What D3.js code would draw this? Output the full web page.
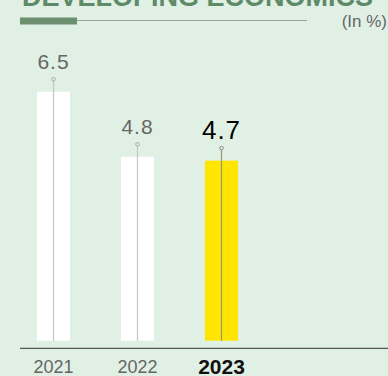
<!DOCTYPE html>
<html>
<head>
  <meta charset="utf-8">
  <title>Developing economics</title>
  <style>
    html, body { margin: 0; padding: 0; }
    body { background: #e1f0e5; font-family: "Liberation Sans", Arial, sans-serif; }
  </style>
  <script src="https://d3js.org/d3.v7.min.js"></script>
</head>
<body>
  <script>
    var years = ['2021', '2022', '2023'];
    var values = [6.5, 4.8, 4.7];
    var labels = ['6.5', '4.8', '4.7'];

    var width = 388;
    var height = 376;
    var current = 2; // highlighted year

    var svg = d3.select('body').append('svg')
      .attr('width', width)
      .attr('height', height)
      .style('display', 'block');

    // header
    svg.append('text')
      .attr('x', 22)
      .attr('y', 6)
      .style('font-size', '27px')
      .style('font-weight', 'bold')
      .style('fill', '#5e8a67')
      .text('DEVELOPING ECONOMICS');

    svg.append('line')
      .attr('x1', 77).attr('x2', 307)
      .attr('y1', 20.5).attr('y2', 20.5)
      .style('stroke', '#9aa59c')
      .style('stroke-width', 1.2);

    svg.append('rect')
      .attr('x', 20).attr('y', 17.5)
      .attr('width', 57).attr('height', 7)
      .style('fill', '#6b8f6f');

    svg.append('text')
      .attr('x', 387)
      .attr('y', 27)
      .attr('text-anchor', 'end')
      .style('font-size', '17px')
      .style('fill', '#666')
      .text('(In %)');

    var x = d3.scaleBand()
      .domain(years)
      .range([-14, 289])
      .padding(0.607);

    var y = d3.scaleLinear()
      .domain([0, 6.5])
      .range([340.7, 91.7]);

    var data = years.map(function(d, i) {
      return {year: d, value: values[i], label: labels[i], i: i};
    });

    var bar = svg.append('g').selectAll('g')
      .data(data)
      .enter()
      .append('g');

    bar.append('rect')
      .attr('x', d => x(d.year))
      .attr('y', d => y(d.value))
      .attr('width', x.bandwidth())
      .attr('height', d => y(0) - y(d.value))
      .style('fill', d => d.i === current ? '#ffe500' : '#fff');

    bar.append('line')
      .attr('x1', d => x(d.year) + x.bandwidth() / 2)
      .attr('x2', d => x(d.year) + x.bandwidth() / 2)
      .attr('y1', d => y(d.value) - 12.5)
      .attr('y2', y(0))
      .style('stroke', d => d.i === current ? '#9a9a7a' : '#c8c8c8')
      .style('stroke-width', 1.3);

    bar.append('circle')
      .attr('cx', d => x(d.year) + x.bandwidth() / 2)
      .attr('cy', d => y(d.value) - 12.5)
      .attr('r', 1.8)
      .style('fill', '#e1f0e5')
      .style('stroke', d => d.i === current ? '#888' : '#aaa')
      .style('stroke-width', 1);

    bar.append('text')
      .attr('x', d => x(d.year) + x.bandwidth() / 2)
      .attr('y', d => y(d.value) - (d.i === current ? 21.5 : 23))
      .attr('text-anchor', 'middle')
      .style('font-size', d => d.i === current ? '26px' : '21px')
      .style('letter-spacing', '1px')
      .style('fill', d => d.i === current ? '#000' : '#666')
      .text(d => d.label);

    // axis
    svg.append('line')
      .attr('x1', 20).attr('x2', width)
      .attr('y1', 348.3).attr('y2', 348.3)
      .style('stroke', '#555')
      .style('stroke-width', 1.2);

    svg.append('g').selectAll('text')
      .data(data)
      .enter()
      .append('text')
      .attr('x', d => x(d.year) + x.bandwidth() / 2)
      .attr('y', d => d.i === current ? 373.5 : 373)
      .attr('text-anchor', 'middle')
      .style('font-size', d => d.i === current ? '21px' : '18px')
      .style('font-weight', d => d.i === current ? 'bold' : 'normal')
      .style('fill', d => d.i === current ? '#111' : '#666')
      .text(d => d.year);
  </script>
</body>
</html>
